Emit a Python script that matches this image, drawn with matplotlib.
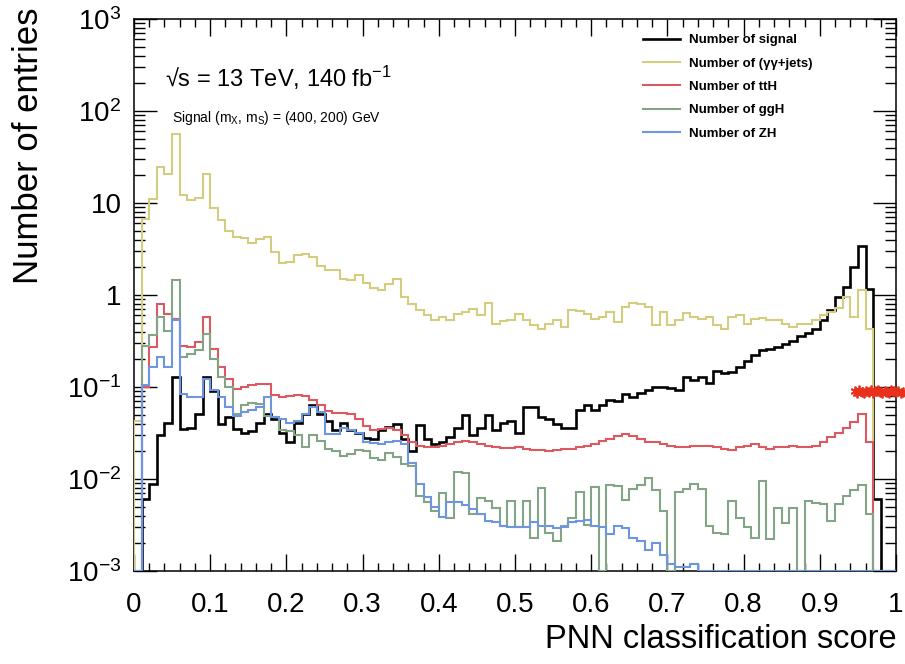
import numpy as np
import matplotlib
matplotlib.use("Agg")
import matplotlib.pyplot as plt
from matplotlib.lines import Line2D
from matplotlib.ticker import FixedLocator, FixedFormatter, LogLocator, NullFormatter

plt.rcParams['font.family'] = ['Liberation Sans', 'DejaVu Sans']
plt.rcParams['mathtext.fontset'] = 'custom'
plt.rcParams['mathtext.rm'] = 'Liberation Sans'
plt.rcParams['mathtext.it'] = 'Liberation Sans'

# 100 bins of PNN score, 0 -> 1
edges = np.linspace(0, 1, 101)

signal = [0, 0.006, 0.0089, 0.030, 0.041, 0.13, 0.035, 0.036, 0.051, 0.13,
          0.091, 0.040, 0.047, 0.035, 0.032, 0.033, 0.041, 0.051, 0.045, 0.032,
          0.025, 0.041, 0.051, 0.063, 0.051, 0.043, 0.034, 0.041, 0.034, 0.032,
          0.028, 0.027, 0.034, 0.037, 0.040, 0.027, 0.020, 0.039, 0.027, 0.024,
          0.025, 0.0285, 0.036, 0.050, 0.030, 0.036, 0.050, 0.034, 0.041, 0.043,
          0.032, 0.060, 0.060, 0.047, 0.045, 0.040, 0.036, 0.036, 0.056, 0.063,
          0.056, 0.063, 0.072, 0.070, 0.084, 0.077, 0.086, 0.092, 0.101, 0.100,
          0.098, 0.092, 0.13, 0.118, 0.128, 0.11, 0.151, 0.141, 0.145, 0.164,
          0.194, 0.225, 0.25, 0.26, 0.275, 0.295, 0.32, 0.354, 0.385, 0.43,
          0.53, 0.68, 0.96, 1.22, 2.04, 3.37, 1.17, 0.0061, 0, 0]

gamgam = [0.043, 6.7, 11.1, 24.5, 20.8, 55.6, 12.1, 10.8, 11.4, 20.8,
          8.9, 6.6, 5.0, 4.25, 4.2, 3.66, 4.1, 4.3, 2.9, 2.2,
          2.27, 2.69, 2.8, 2.58, 2.09, 1.85, 1.85, 1.5, 1.44, 1.63,
          1.34, 1.2, 1.14, 1.32, 1.5, 0.95, 0.80, 0.68, 0.60, 0.53,
          0.57, 0.54, 0.625, 0.65, 0.71, 0.60, 0.81, 0.49, 0.52, 0.54,
          0.625, 0.54, 0.47, 0.43, 0.49, 0.54, 0.45, 0.68, 0.67, 0.625,
          0.55, 0.57, 0.65, 0.51, 0.74, 0.81, 0.80, 0.74, 0.47, 0.65,
          0.47, 0.54, 0.64, 0.57, 0.55, 0.57, 0.47, 0.43, 0.57, 0.60,
          0.49, 0.55, 0.56, 0.53, 0.53, 0.49, 0.45, 0.48, 0.48, 0.53,
          0.60, 0.65, 0.72, 0.95, 0.57, 1.14, 0.43, 0, 0, 0]

tth = [0, 0.10, 0.27, 0.80, 0.625, 0.55, 0.28, 0.27, 0.31, 0.57,
       0.26, 0.164, 0.123, 0.096, 0.0995, 0.104, 0.108, 0.108, 0.081, 0.077,
       0.080, 0.082, 0.080, 0.072, 0.063, 0.055, 0.052, 0.052, 0.051, 0.045,
       0.038, 0.034, 0.035, 0.036, 0.034, 0.030, 0.025, 0.023, 0.022, 0.022,
       0.023, 0.024, 0.025, 0.026, 0.025, 0.024, 0.023, 0.022, 0.0215, 0.0215,
       0.022, 0.021, 0.0205, 0.0205, 0.020, 0.0205, 0.021, 0.021, 0.022, 0.023,
       0.024, 0.026, 0.027, 0.029, 0.031, 0.029, 0.027, 0.025, 0.025, 0.024,
       0.023, 0.0222, 0.0225, 0.023, 0.023, 0.023, 0.022, 0.021, 0.0205, 0.022,
       0.023, 0.024, 0.0222, 0.0212, 0.0222, 0.0225, 0.023, 0.0225, 0.0225, 0.023,
       0.025, 0.0285, 0.032, 0.036, 0.042, 0.051, 0.025, 0, 0, 0]

ggh = [0, 0.28, 0.363, 0.57, 0.41, 1.46, 0.21, 0.23, 0.25, 0.38,
       0.20, 0.128, 0.0995, 0.051, 0.063, 0.067, 0.066, 0.049, 0.047, 0.034,
       0.033, 0.030, 0.022, 0.030, 0.026, 0.021, 0.020, 0.018, 0.0185, 0.0205,
       0.020, 0.017, 0.016, 0.019, 0.0175, 0.0146, 0.014, 0.0065, 0.0056, 0.0045,
       0.007, 0.0038, 0.0118, 0.0115, 0.0042, 0.0062, 0.0058, 0.0048, 0.0031, 0.0058,
       0.0030, 0.0058, 0.0023, 0.0079, 0.0026, 0.0021, 0.0031, 0.0038, 0.0072, 0.0032,
       0.0081, 0, 0.0087, 0.0084, 0.0059, 0.0078, 0.0085, 0.0102, 0.0076, 0.0045,
       0, 0.0073, 0.0077, 0.0089, 0.0078, 0.0031, 0.0026, 0.0025, 0.0058, 0.0038,
       0.0030, 0.0023, 0.0096, 0.0022, 0.0049, 0.0033, 0.0049, 0, 0.0058, 0.0055,
       0.0053, 0.0035, 0.0053, 0.0065, 0.0075, 0.0085, 0.0042, 0, 0, 0]

zh = [0, 0.104, 0.164, 0.21, 0.164, 0.53, 0.084, 0.077, 0.077, 0.123,
      0.092, 0.077, 0.060, 0.049, 0.053, 0.056, 0.060, 0.077, 0.047, 0.045,
      0.041, 0.043, 0.051, 0.060, 0.053, 0.031, 0.031, 0.036, 0.034, 0.032,
      0.025, 0.0244, 0.024, 0.025, 0.026, 0.024, 0.015, 0.0089, 0.0063, 0.0050,
      0.0039, 0.0056, 0.0056, 0.0052, 0.0047, 0.0042, 0.0035, 0.0034, 0.0031, 0.0030,
      0.0030, 0.0030, 0.0034, 0.0031, 0.0031, 0.0029, 0.0030, 0.0034, 0.0035, 0.0036,
      0.0031, 0.0030, 0.0025, 0.0031, 0.0029, 0.0023, 0.0021, 0.0017, 0.0020, 0.0015,
      0.0012, 0.0011, 0.0011, 0.0012, 0, 0, 0, 0, 0, 0,
      0, 0, 0, 0, 0, 0, 0, 0, 0, 0,
      0, 0, 0, 0, 0, 0, 0, 0, 0, 0]

# stray red star markers on the right edge
star_x = [0.946, 0.949, 0.952, 0.955, 0.958, 0.961, 0.964, 0.967, 0.970, 0.973,
          0.976, 0.979, 0.982, 0.985, 0.988, 0.991, 0.994, 0.997, 1.000, 1.003, 1.006, 1.009]
star_y = [0.090, 0.087, 0.092, 0.089, 0.086, 0.091, 0.088, 0.093, 0.087, 0.090,
          0.092, 0.088, 0.086, 0.091, 0.089, 0.087, 0.092, 0.090, 0.088, 0.091, 0.087, 0.089]

series = [("Number of signal", signal, "black", 1.9),
          ("Number of (\u03b3\u03b3+jets)", gamgam, "#d3cd80", 1.5),
          ("Number of ttH", tth, "#db5a62", 1.5),
          ("Number of ggH", ggh, "#84a487", 1.5),
          ("Number of ZH", zh, "#6e95df", 1.5)]

ymin, ymax = 1e-3, 1e3

fig = plt.figure(figsize=(9.05, 6.64), dpi=100)
ax = fig.add_axes([134/905, 1-571/664, 762/905, 552/664])

handles = []
for lab, vals, col, lw in series:
    v = np.clip(np.array(vals, dtype=float), ymin, None)  # ROOT puts empty bins on the floor
    ax.stairs(v, edges, color=col, lw=lw, zorder=3)
    handles.append(Line2D([], [], color=col, lw=lw, label=lab))

ax.plot(star_x, star_y, ls='none', marker=(6, 2, 0), ms=7, mew=1.3,
        color='#e8301c', clip_on=False, zorder=4)

ax.set_yscale('log')
ax.set_xlim(0, 1)
ax.set_ylim(ymin, ymax)

xt = [0, 0.1, 0.2, 0.3, 0.4, 0.5, 0.6, 0.7, 0.8, 0.9, 1]
ax.xaxis.set_major_locator(FixedLocator(xt))
ax.xaxis.set_major_formatter(FixedFormatter(["0", "0.1", "0.2", "0.3", "0.4", "0.5",
                                             "0.6", "0.7", "0.8", "0.9", "1"]))
ax.xaxis.set_minor_locator(FixedLocator(np.arange(0, 1.001, 0.02)))

yt = [1e-3, 1e-2, 1e-1, 1, 10, 100, 1000]
ax.yaxis.set_major_locator(FixedLocator(yt))
ax.yaxis.set_major_formatter(FixedFormatter([r"10$^{-3}$", r"10$^{-2}$", r"10$^{-1}$",
                                             "1", "10", r"10$^{2}$", r"10$^{3}$"]))
ax.yaxis.set_minor_locator(LogLocator(base=10, subs=np.arange(2, 10), numticks=20))
ax.yaxis.set_minor_formatter(NullFormatter())

ax.tick_params(which='both', direction='in', top=True, right=True, width=1.0)
ax.tick_params(axis='x', which='major', length=12, labelsize=20, pad=15)
ax.tick_params(axis='x', which='minor', length=6)
ax.tick_params(axis='y', which='major', length=16.5, labelsize=20, pad=9)
ax.tick_params(axis='y', which='minor', length=8)
for s in ax.spines.values():
    s.set_linewidth(1.1)

fig.text(897/905, 1-640/664, "PNN classification score", ha='right', va='center', fontsize=23.5)
fig.text(28/905, 1-8/664, "Number of entries", rotation=90, ha='center', va='top', fontsize=25)

fig.text(165/905, 1-87/664, "\u221as = 13 TeV, 140 fb$^{-1}$", ha='left', va='baseline', fontsize=17)
fig.text(172/905, 1-122/664, "Signal (m$_{X}$, m$_{S}$) = (400, 200) GeV", ha='left',
         va='baseline', fontsize=10)

leg = ax.legend(handles=handles, loc='upper left', bbox_to_anchor=((643-134)/762, (571-34)/552),
                frameon=False, borderpad=0, borderaxespad=0, handlelength=2.8,
                handletextpad=0.7, labelspacing=0.84, prop={'weight': 'bold', 'size': 9.5})

fig.savefig("out.png", dpi=100)
